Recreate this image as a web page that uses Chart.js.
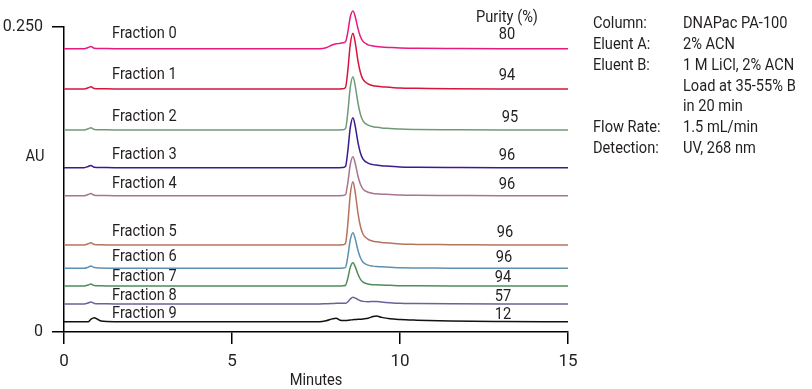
<!DOCTYPE html>
<html>
<head>
<meta charset="utf-8">
<script src="https://cdn.jsdelivr.net/npm/chart.js@4.4.1/dist/chart.umd.min.js"></script>
<style>
  html, body { margin: 0; padding: 0; background: #fff; }
  #wrap { width: 812px; height: 389px; position: relative; }
</style>
</head>
<body>
<div id="wrap"><canvas id="grafica"></canvas></div>
<script>
// retention time (min), shared by every trace
const times = [0, 0.6, 0.72, 0.8, 0.9, 1.1, 1.5, 7.6, 7.8, 8.0, 8.1, 8.2, 8.3, 8.38, 8.45, 8.52, 8.6, 8.67, 8.75, 8.82, 8.9, 9.05, 9.2, 9.3, 9.45, 9.7, 10.0, 10.5, 11.5, 13, 15];

// signal above each trace's own baseline, mAU
const fraction0 = [0, 0, 1.0, 1.8, 0.4, 0.2, 0, 0, 0.8, 3.3, 4.0, 4.3, 4.8, 5.8, 14, 26, 30.9, 26, 16.5, 10, 6, 3.2, 2.2, 1.8, 1.4, 1.0, 0.6, 0.4, 0.2, 0, 0];
const fraction1 = [0, 0, 1.0, 1.8, 0.4, 0.2, 0, 0, 0, 0, 0, 0, 0.2, 1.4, 16, 36.6, 45.7, 37.5, 22.9, 13.7, 7.8, 4.1, 2.7, 2.3, 1.8, 1.4, 0.7, 0.5, 0.2, 0, 0];
const fraction2 = [0, 0, 1.0, 1.8, 0.4, 0.2, 0, 0, 0, 0, 0, 0, 0.2, 1.3, 15.3, 35, 43.7, 35.8, 21.9, 13.1, 7.4, 3.9, 2.6, 2.2, 1.7, 1.3, 0.7, 0.4, 0.2, 0, 0];
const fraction3 = [0, 0, 1.0, 1.8, 0.4, 0.2, 0, 0, 0, 0, 0, 0, 0.2, 1.2, 14.4, 32.8, 41, 33.6, 20.5, 12.3, 7.0, 3.7, 2.5, 2.1, 1.6, 1.2, 0.6, 0.4, 0.2, 0, 0];
const fraction4 = [0, 0, 1.0, 1.8, 0.4, 0.2, 0, 0, 0, 0, 0, 0, 0.2, 1.0, 11.2, 25.6, 32, 26.2, 16, 9.6, 5.4, 2.9, 1.9, 1.6, 1.3, 1.0, 0.5, 0.3, 0.2, 0, 0];
const fraction5 = [0, 0, 1.0, 1.8, 0.4, 0.2, 0, 0, 0, 0, 0, 0, 0.2, 1.6, 18.2, 41.5, 51.9, 42.6, 26, 15.6, 8.8, 4.7, 3.1, 2.6, 2.1, 1.6, 0.8, 0.5, 0.3, 0, 0];
const fraction6 = [0, 0, 1.0, 2.0, 0.6, 0.2, 0, 0, 0, 0, 0, 0, 0.2, 0.9, 10.2, 23.4, 29.2, 23.9, 14.6, 8.8, 5.0, 2.6, 1.8, 1.5, 1.2, 0.9, 0.4, 0.3, 0.1, 0, 0];
const fraction7 = [0, 0, 0.8, 1.6, 0.4, 0.2, 0, 0, 0, 0, 0, 0, 0.2, 0.6, 6.7, 15.3, 19.1, 15.7, 9.6, 5.7, 3.2, 1.7, 1.1, 1.0, 0.8, 0.6, 0.3, 0.2, 0.1, 0, 0];
const fraction8 = [0, 0, 0.8, 1.6, 0.4, 0.2, 0, 0, 0.2, 0.4, 0.5, 0.5, 0.5, 0.6, 1.8, 4.0, 5.5, 4.8, 3.6, 2.6, 2.1, 1.8, 2.0, 2.1, 1.6, 1.0, 0.5, 0.3, 0.1, 0, 0];
const fraction9 = [0, 0, 0, 2.0, 3.3, 0.6, 0.1, 0, 0.8, 2.5, 2.8, 1.5, 1.0, 1.0, 1.2, 1.4, 1.7, 1.8, 2.0, 2.1, 2.3, 2.8, 4.3, 4.7, 3.6, 2.4, 1.8, 1.3, 0.6, 0.2, 0];

// vertical offset of each trace, AU
const baselines = [0.2322, 0.1992, 0.1656, 0.1347, 0.1117, 0.0713, 0.0522, 0.0377, 0.0230, 0.0084];
const fractionNames = ['Fraction 0', 'Fraction 1', 'Fraction 2', 'Fraction 3', 'Fraction 4', 'Fraction 5', 'Fraction 6', 'Fraction 7', 'Fraction 8', 'Fraction 9'];
const purity = [80, 94, 95, 96, 96, 96, 96, 94, 57, 12];

const xTicks = [0, 5, 10, 15];
const yTicks = [0, 0.25];
const yTickLabels = ['0', '0.250'];

const condNames = ['Column:', 'Eluent A:', 'Eluent B:', '', '', 'Flow Rate:', 'Detection:'];
const condValues = ['DNAPac PA-100', '2% ACN', '1 M LiCl, 2% ACN', 'Load at 35-55% B', 'in 20 min', '1.5 mL/min', 'UV, 268 nm'];

const signals = [fraction0, fraction1, fraction2, fraction3, fraction4, fraction5, fraction6, fraction7, fraction8, fraction9];
const colores = ['#e8197f', '#d8143c', '#6f9a78', '#3b1a8e', '#a8758e', '#b5745c', '#5e90b2', '#4e8c5c', '#6a6299', '#111111'];

// text placement
const FONT = "Roboto, 'DejaVu Sans Condensed', sans-serif";
const TXT = '#231f20';
const NARROW = 0.86;
const labelY = [34, 75, 117, 155, 184, 232, 257, 277, 296, 314];
const purityX = [507, 507, 510, 507, 507, 505, 504, 503, 503, 503];

const datasets = signals.map((sig, i) => ({
    label: fractionNames[i],
    data: times.map((t, k) => ({ x: t, y: baselines[i] + sig[k] / 1000 })),
    borderColor: colores[i],
    borderWidth: 1.5,
    pointRadius: 0,
    fill: false,
    clip: false,
    cubicInterpolationMode: 'monotone'
}));

// condensed text: squeeze horizontally around the anchor
function texto(c, s, x, y, align) {
    c.save();
    c.translate(x, y);
    c.scale(NARROW, 1);
    c.textAlign = align;
    c.fillText(s, 0, 0);
    c.restore();
}

const textos = {
    id: 'textos',
    afterDraw(chart) {
        const c = chart.ctx;
        c.save();
        c.fillStyle = TXT;
        c.font = '17px ' + FONT;
        c.textBaseline = 'middle';

        fractionNames.forEach((n, i) => texto(c, n, 112, labelY[i], 'left'));

        texto(c, 'Purity (%)', 507, 18, 'center');
        purity.forEach((p, i) => texto(c, String(p), purityX[i], labelY[i] + 1, 'center'));

        texto(c, 'AU', 35, 157, 'center');
        texto(c, 'Minutes', 316, 381, 'center');

        condNames.forEach((n, i) => {
            const y = 24 + 20.8 * i;
            if (n) texto(c, n, 593, y, 'left');
            texto(c, condValues[i], 683, y, 'left');
        });
        c.restore();
    }
};

const ctx = document.getElementById('grafica').getContext('2d');
new Chart(ctx, {
    type: 'line',
    data: { datasets: datasets },
    plugins: [textos],
    options: {
        responsive: true,
        maintainAspectRatio: false,
        animation: false,
        layout: { padding: { top: 27, right: 244, left: 0, bottom: 0 } },
        plugins: { legend: { display: false }, tooltip: { enabled: false } },
        scales: {
            x: {
                type: 'linear',
                min: 0,
                max: 15,
                afterFit(s) { s.height = 57; },
                afterBuildTicks(s) { s.ticks = xTicks.map(v => ({ value: v })); },
                grid: { drawOnChartArea: false, tickLength: 12, color: '#000', lineWidth: 1.5 },
                border: { color: '#000', width: 1.5 },
                ticks: { padding: 8, color: TXT, font: { family: FONT, size: 17 }, maxRotation: 0 }
            },
            y: {
                min: 0,
                max: 0.25,
                afterFit(s) { s.width = 64; },
                afterBuildTicks(s) { s.ticks = yTicks.map(v => ({ value: v })); },
                grid: { drawOnChartArea: false, tickLength: 12, color: '#000', lineWidth: 1.5 },
                border: { color: '#000', width: 1.5 },
                ticks: {
                    padding: 9,
                    color: TXT,
                    font: { family: FONT, size: 16 },
                    callback: function(value, index) { return yTickLabels[index]; }
                }
            }
        }
    }
});
</script>
</body>
</html>
